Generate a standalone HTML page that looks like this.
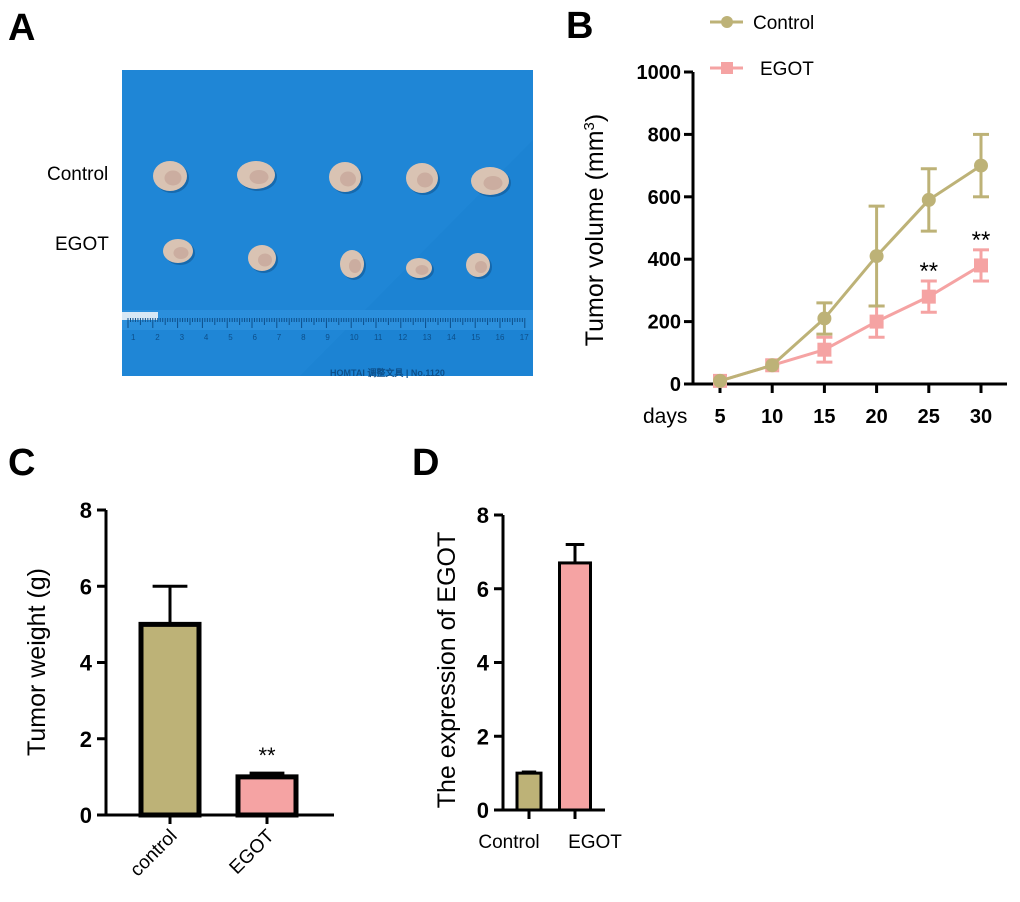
<!DOCTYPE html>
<html><head><meta charset="utf-8"><style>
body{margin:0;background:#fff;}
svg{display:block;font-family:"Liberation Sans",Arial,sans-serif;}
</style></head><body>
<svg width="1020" height="902" viewBox="0 0 1020 902">
<text x="8" y="40" font-size="38" font-weight="bold">A</text>
<g>
<rect x="122" y="70" width="411" height="306" fill="#1f86d6"/>
<polygon points="300,376 533,140 533,376" fill="#1a7fcf" opacity="0.5"/>
<rect x="122" y="310" width="411" height="20" fill="#2b8fdc"/>
<rect x="122" y="312" width="36" height="8" fill="#d8e8f5"/>
<g id="ruler" stroke="#0d4f8a" stroke-width="1"></g>
<g id="rulerNums" font-size="8" fill="#0d4f8a"></g>
<text x="330" y="376" font-size="9" font-weight="bold" fill="#0d4f8a">HOMTAI 调整文具 | No.1120</text>
<g id="tumors"></g>
</g>
<text x="47" y="180" font-size="19">Control</text>
<text x="55" y="250" font-size="19">EGOT</text>

<text x="566" y="38" font-size="38" font-weight="bold">B</text>
<g>
<g><line x1="710" y1="22" x2="743" y2="22" stroke="#bdb277" stroke-width="3"/><circle cx="727" cy="22" r="6" fill="#bdb277"/><text x="753" y="29" font-size="19">Control</text></g>
<g><line x1="710" y1="68" x2="743" y2="68" stroke="#f5a3a3" stroke-width="3"/><rect x="721" y="62" width="12" height="12" fill="#f5a3a3"/><text x="760" y="75" font-size="19">EGOT</text></g>
</g>
<g id="chartB"></g>
<text transform="translate(603,230) rotate(-90)" font-size="25" text-anchor="middle">Tumor volume (mm<tspan font-size="15" dy="-9">3</tspan><tspan dy="9">)</tspan></text>
<text x="643" y="423" font-size="21">days</text>

<text x="8" y="475" font-size="38" font-weight="bold">C</text>
<g id="chartC"></g>
<text transform="translate(45,662) rotate(-90)" font-size="25" text-anchor="middle">Tumor weight (g)</text>

<text x="412" y="475" font-size="38" font-weight="bold">D</text>
<g id="chartD"></g>
<text transform="translate(455,670) rotate(-90)" font-size="25" text-anchor="middle">The expression of EGOT</text>
</svg>
<script>
// Panel B data
const days = [5,10,15,20,25,30];
const controlVol = [10,60,210,410,590,700];
const controlErr = [0,0,50,160,100,100];
const egotVol = [10,60,110,200,280,380];
const egotErr = [0,0,40,50,50,50];
const volTicks = [0,200,400,600,800,1000];
const sigB = [null,null,null,null,"**","**"];
// Panel C data
const weightCats = ["control","EGOT"];
const weightVals = [5,1];
const weightErr = [1,0.1];
const weightTicks = [0,2,4,6,8];
// Panel D data
const exprCats = ["Control","EGOT"];
const exprVals = [1,6.7];
const exprErr = [0.03,0.5];
const exprTicks = [0,2,4,6,8];

const NS="http://www.w3.org/2000/svg";
function mk(tag,attrs,parent,txt){const e=document.createElementNS(NS,tag);for(const k in attrs)e.setAttribute(k,attrs[k]);if(txt!==undefined)e.textContent=txt;parent.appendChild(e);return e;}
const CC="#bdb277", EC="#f5a3a3";

(function(){
 const r=document.getElementById('ruler');
 for(let i=0;i<=160;i++){const x=128+i*2.48;mk('line',{x1:x,y1:318,x2:x,y2:318+(i%10==0?10:(i%5==0?7:4))},r);}
 const rn=document.getElementById('rulerNums');
 for(let n=1;n<=17;n++){mk('text',{x:131+(n-1)*24.3,y:340},rn,String(n));}
 const t=document.getElementById('tumors');
 const ctl=[[170,176,17,15],[256,175,19,14],[345,177,16,15],[422,178,16,15],[490,181,19,14]];
 const eg=[[178,251,15,12],[262,258,14,13],[352,264,12,14],[419,268,13,10],[478,265,12,12]];
 ctl.concat(eg).forEach(p=>{mk('ellipse',{cx:p[0]+2,cy:p[1]+2,rx:p[2],ry:p[3],fill:"#0e4e86",opacity:0.5},t);
  const e=mk('ellipse',{cx:p[0],cy:p[1],rx:p[2],ry:p[3],fill:"#d9c3b3"},t);
  
  
  mk('ellipse',{cx:p[0]+3,cy:p[1]+2,rx:p[2]*0.5,ry:p[3]*0.5,fill:"#c29e93",opacity:0.6},t);});
})();

(function(){
 const g=document.getElementById('chartB');
 const x0=693,x1=1007,y0=384,yTop=72;
 const xs=d=>720+(d-5)/25*261;
 const ys=v=>y0-(v/1000)*(y0-yTop);
 const ax=mk('g',{},g);
 
 
 mk('line',{x1:x0,y1:yTop,x2:x0,y2:y0,stroke:"#000","stroke-width":3},ax);
 mk('line',{x1:x0,y1:y0,x2:x1,y2:y0,stroke:"#000","stroke-width":3},ax);
 volTicks.forEach(v=>{mk('line',{x1:x0-9,y1:ys(v),x2:x0,y2:ys(v),stroke:"#000","stroke-width":3},ax);
  const t=mk('text',{x:x0-12,y:ys(v)+7,"font-size":20,"font-weight":"bold","text-anchor":"end"},ax,String(v));
  
  });
 days.forEach(d=>{mk('line',{x1:xs(d),y1:y0,x2:xs(d),y2:y0+9,stroke:"#000","stroke-width":3},ax);
  const t=mk('text',{x:xs(d),y:423,"font-size":20,"font-weight":"bold","text-anchor":"middle"},ax,String(d));
  
  });
 function series(vals,errs,col,shape,name){
  const sg=mk('g',{},g);
  
  
  vals.forEach((v,i)=>{if(errs[i]>0){const x=xs(days[i]);
   mk('line',{x1:x,y1:ys(v-errs[i]),x2:x,y2:ys(v+errs[i]),stroke:col,"stroke-width":3},sg);
   [v-errs[i],v+errs[i]].forEach(e=>mk('line',{x1:x-8,y1:ys(e),x2:x+8,y2:ys(e),stroke:col,"stroke-width":3},sg));}});
  mk('polyline',{points:vals.map((v,i)=>xs(days[i])+","+ys(v)).join(" "),fill:"none",stroke:col,"stroke-width":3},sg);
  vals.forEach((v,i)=>{let m;if(shape=="c")m=mk('circle',{cx:xs(days[i]),cy:ys(v),r:7,fill:col},sg);
   else m=mk('rect',{x:xs(days[i])-7,y:ys(v)-7,width:14,height:14,fill:col},sg);
   
   });
 }
 series(egotVol,egotErr,EC,"s","series-egot");
 series(controlVol,controlErr,CC,"c","series-control");
 sigB.forEach((s,i)=>{if(s){
  const t=mk('text',{x:xs(days[i]),y:ys(egotVol[i]+egotErr[i])-2,"font-size":24,"text-anchor":"middle"},g,s);
  
  }});
})();

function barChart(id,cats,vals,errs,ticks,o){
 const g=document.getElementById(id);
 const ys=v=>o.y0-(v/8)*(o.y0-o.yTop);
 const ax=mk('g',{},g);
 
 
 mk('line',{x1:o.x0,y1:o.yTop,x2:o.x0,y2:o.y0,stroke:"#000","stroke-width":3},ax);
 mk('line',{x1:o.x0,y1:o.y0,x2:o.x1,y2:o.y0,stroke:"#000","stroke-width":3},ax);
 ticks.forEach(v=>{mk('line',{x1:o.x0-9,y1:ys(v),x2:o.x0,y2:ys(v),stroke:"#000","stroke-width":3},ax);
  const t=mk('text',{x:o.x0-14,y:ys(v)+8,"font-size":22,"font-weight":"bold","text-anchor":"end"},ax,String(v));
  
  });
 const cols=[CC,EC];
 cats.forEach((c,i)=>{const cx=o.cx[i],w=o.bw[i];
  mk('line',{x1:cx,y1:ys(vals[i]),x2:cx,y2:ys(vals[i]+errs[i]),stroke:"#000","stroke-width":3},g);
  mk('line',{x1:cx-w*0.3,y1:ys(vals[i]+errs[i]),x2:cx+w*0.3,y2:ys(vals[i]+errs[i]),stroke:"#000","stroke-width":3},g);
  const b=mk('rect',{x:cx-w/2,y:ys(vals[i]),width:w,height:o.y0-ys(vals[i]),fill:cols[i],stroke:"#000","stroke-width":o.sw},g);
  
  
  mk('line',{x1:cx,y1:o.y0,x2:cx,y2:o.y0+9,stroke:"#000","stroke-width":3},ax);
  let t;
  if(o.rot) t=mk('text',{transform:`translate(${cx+8},${o.y0+22}) rotate(-45)`,"font-size":19,"text-anchor":"end"},ax,c);
  else t=mk('text',{x:o.lx[i],y:o.y0+38,"font-size":19,"text-anchor":"middle"},ax,c);
  
  
 });
 return {g,ys};
}
const c=barChart('chartC',weightCats,weightVals,weightErr,weightTicks,{x0:106,x1:334,y0:815,yTop:510,cx:[170,267],bw:[58,58],sw:5,rot:true,name:'chart-c'});
const st=mk('text',{x:267,y:c.ys(weightVals[1]+weightErr[1])-10,"font-size":22,"text-anchor":"middle"},c.g,"**");


barChart('chartD',exprCats,exprVals,exprErr,exprTicks,{x0:503,x1:605,y0:810,yTop:515,cx:[529,575],bw:[24,31],sw:3,rot:false,lx:[509,595],name:'chart-d'});
</script>
</body></html>
